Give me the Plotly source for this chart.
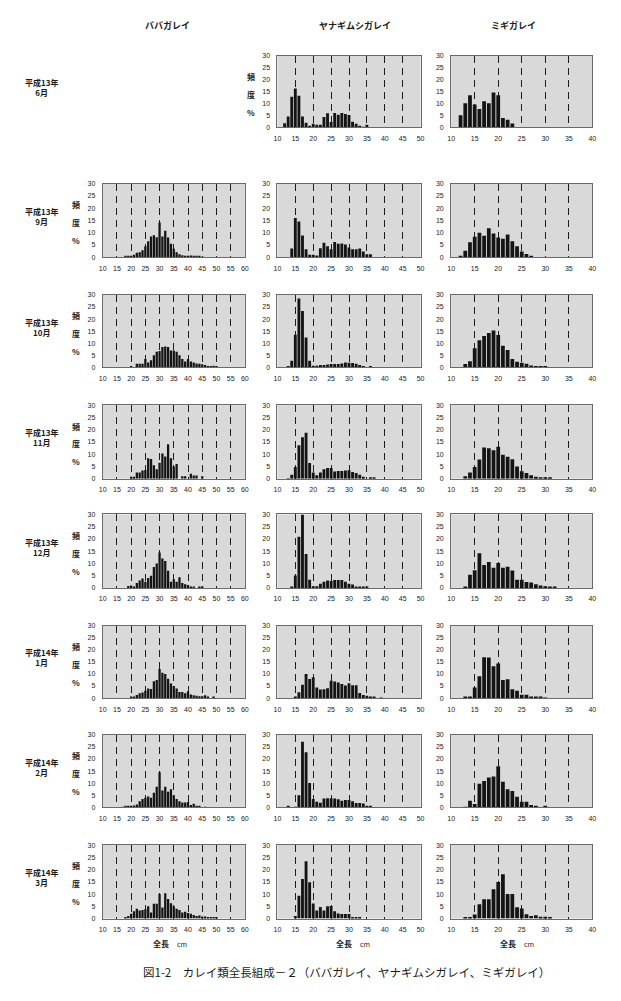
import plotly.graph_objects as go

W, H = 621, 1001

# ---------------- text ----------------
species = ["ババガレイ", "ヤナギムシガレイ", "ミギガレイ"]
months = ["平成13年<br>6月", "平成13年<br>9月", "平成13年<br>10月", "平成13年<br>11月",
          "平成13年<br>12月", "平成14年<br>1月", "平成14年<br>2月", "平成14年<br>3月"]
caption = "図1-2　カレイ類全長組成－２（ババガレイ、ヤナギムシガレイ、ミギガレイ）"
x_upper = [60, 50, 40]
y_ticks = [0, 5, 10, 15, 20, 25, 30]

# ---------------- data: frequency (%) by 1 cm length class ----------------
# each series: first length class (cm), then % per consecutive class
baba_0109_start = 18
baba_0109 = [0.2, 0.4, 0.6, 1.0, 1.8, 2.0, 2.8, 4.5, 6.5, 8.5, 9.0, 8.2, 14.2, 8.5, 10.8, 8.0,
             5.5, 3.5, 2.0, 1.2, 0.8, 0.6, 0.4, 0.7, 0.3, 0.2, 0.2, 0.1]
baba_0110_start = 20
baba_0110 = [0.3, 0, 1.5, 1.5, 1.5, 3.5, 2.0, 3.0, 5.0, 6.5, 6.8, 8.5, 8.7, 8.5, 7.0, 7.0, 6.5,
             5.0, 3.5, 2.5, 3.5, 2.5, 2.0, 1.6, 1.5, 1.3, 1.0, 0.5, 0.5, 0.7, 0.3, 0.2]
baba_0111_start = 20
baba_0111 = [0.8, 0.8, 2.5, 2.5, 3.3, 3.5, 8.3, 8.0, 5.5, 3.8, 6.5, 10.3, 9.0, 14.0, 8.3, 5.0,
             6.0, 0, 1.0, 1.0, 0, 2.0, 1.3, 1.3, 0, 1.0]
baba_0112_start = 19
baba_0112 = [0.8, 1.0, 0.6, 2.0, 3.0, 3.8, 2.5, 4.0, 5.0, 8.5, 10.0, 14.5, 12.0, 11.0, 7.0, 2.5,
             3.5, 2.5, 4.3, 2.0, 1.5, 1.2, 0.5, 0.3, 0, 0.3, 0.3]
baba_0201_start = 20
baba_0201 = [0.3, 0.6, 1.3, 2.0, 2.3, 3.0, 4.0, 3.8, 7.0, 7.5, 12.0, 10.5, 10.0, 8.0, 6.0, 5.0,
             4.0, 2.5, 2.5, 2.0, 2.8, 1.5, 1.2, 1.0, 0.8, 0.8, 1.2, 0.3, 0, 0.3]
baba_0202_start = 17
baba_0202 = [0.2, 0.3, 0.5, 0.5, 0.8, 1.2, 2.5, 3.5, 4.0, 4.5, 4.0, 6.0, 8.5, 14.5, 7.0, 8.5,
             6.5, 7.5, 5.0, 3.5, 2.5, 2.0, 2.0, 2.2, 1.0, 1.5, 0.5, 0.3, 0, 0.2]
baba_0203_start = 18
baba_0203 = [0.5, 1.0, 2.0, 3.0, 4.0, 3.3, 3.5, 3.8, 5.0, 2.5, 6.0, 6.0, 10.0, 4.5, 10.3, 8.0,
             6.3, 5.0, 4.0, 3.5, 2.5, 2.8, 2.3, 2.0, 1.5, 1.0, 1.2, 0.8, 0.8, 0.6, 0.4, 0.5, 0.6]

yana_0106_start = 12
yana_0106 = [1.6, 4.5, 12.8, 16.2, 13.2, 4.5, 1.8, 0.4, 1.4, 1.0, 1.0, 4.3, 5.8, 2.2, 5.9, 5.2,
             5.9, 5.5, 5.1, 2.3, 1.4, 0.6, 0.2, 1.0]
yana_0109_start = 14
yana_0109 = [3.6, 16.0, 14.6, 8.9, 3.2, 1.0, 1.0, 0.7, 3.7, 5.9, 4.5, 3.2, 6.2, 5.5, 5.6, 5.2,
             4.0, 3.3, 3.3, 3.6, 2.3, 1.2, 1.2]
yana_0110_start = 13
yana_0110 = [0.4, 2.8, 13.5, 28.5, 23.4, 12.4, 2.8, 0.7, 0.7, 1.0, 1.0, 1.2, 1.4, 1.4, 1.4, 1.6,
             2.0, 1.9, 1.8, 1.5, 1.0, 0.5, 0, 0.3]
yana_0111_start = 13
yana_0111 = [0.1, 1.6, 4.8, 13.6, 16.9, 18.7, 6.4, 2.5, 1.4, 2.5, 3.8, 4.4, 4.4, 2.9, 3.1, 3.1,
             3.3, 3.4, 2.7, 2.3, 1.6, 0.8, 0, 0.4, 0.4]
yana_0112_start = 14
yana_0112 = [0.3, 5.1, 20.9, 30.0, 13.8, 3.3, 0.7, 0.7, 1.7, 2.5, 3.0, 2.8, 3.2, 3.2, 3.2, 2.5,
             1.7, 1.4, 0.6, 0.6, 0.5, 0.3]
yana_0201_start = 15
yana_0201 = [0.3, 2.4, 5.5, 10.0, 7.9, 8.6, 4.4, 3.6, 3.7, 4.1, 7.2, 6.9, 6.5, 5.8, 5.2, 6.1,
             5.3, 5.3, 2.1, 1.3, 1.0, 0.6, 0.3, 0, 0.1]
yana_0202_start = 13
yana_0202 = [0.3, 0, 0.2, 5.0, 27.1, 22.8, 10.1, 3.4, 2.3, 1.9, 3.7, 3.8, 3.8, 3.7, 3.3, 2.7,
             3.0, 3.0, 2.5, 1.8, 1.8, 1.6, 0.7, 0.3]
yana_0203_start = 15
yana_0203 = [1.0, 9.3, 16.2, 23.4, 14.8, 6.1, 3.3, 4.7, 3.3, 5.0, 5.1, 3.0, 2.1, 1.9, 1.9, 1.9,
             0.4, 0.4, 0.3]

migi_0106_start = 12
migi_0106 = [5.0, 10.0, 13.4, 9.5, 7.6, 10.9, 10.0, 14.5, 13.4, 3.8, 3.1, 1.5]
migi_0109_start = 12
migi_0109 = [0.3, 2.6, 6.1, 8.4, 10.0, 8.8, 11.8, 9.7, 8.0, 7.5, 9.3, 6.5, 4.5, 2.3, 1.3, 0.5]
migi_0110_start = 13
migi_0110 = [1.4, 2.6, 7.9, 11.3, 13.0, 14.3, 15.3, 13.4, 9.0, 7.2, 3.5, 2.4, 1.9, 1.5, 0.8,
             0.5, 0.4, 0.3]
migi_0111_start = 13
migi_0111 = [1.0, 2.5, 4.8, 7.8, 12.7, 12.4, 11.6, 13.0, 9.8, 8.9, 7.9, 5.0, 3.0, 2.3, 1.4,
             0.8, 0.5, 0.4, 0.3]
migi_0112_start = 13
migi_0112 = [0.5, 5.4, 7.2, 14.1, 9.3, 10.6, 8.2, 10.2, 8.2, 8.6, 7.1, 3.3, 3.3, 2.4, 2.2, 1.5,
             1.0, 0.7, 0.4, 0.3]
migi_0201_start = 13
migi_0201 = [0.7, 0.7, 4.4, 9.0, 16.9, 16.8, 13.2, 14.3, 7.5, 7.8, 3.7, 3.0, 1.4, 1.4, 0.3,
             0.5, 0.3, 0.2]
migi_0202_start = 13
migi_0202 = [0.1, 2.7, 1.4, 9.8, 10.9, 12.3, 12.8, 17.0, 10.6, 7.5, 6.8, 4.4, 2.3, 2.3, 1.0,
             0.7, 0, 0.3]
migi_0203_start = 13
migi_0203 = [0.3, 0.4, 1.7, 5.8, 7.9, 7.9, 12.0, 14.9, 18.1, 10.0, 10.0, 4.6, 4.1, 1.8, 1.0,
             1.4, 0.7, 0.7, 0.3]

grid_data = [
    [None, (yana_0106_start, yana_0106), (migi_0106_start, migi_0106)],
    [(baba_0109_start, baba_0109), (yana_0109_start, yana_0109), (migi_0109_start, migi_0109)],
    [(baba_0110_start, baba_0110), (yana_0110_start, yana_0110), (migi_0110_start, migi_0110)],
    [(baba_0111_start, baba_0111), (yana_0111_start, yana_0111), (migi_0111_start, migi_0111)],
    [(baba_0112_start, baba_0112), (yana_0112_start, yana_0112), (migi_0112_start, migi_0112)],
    [(baba_0201_start, baba_0201), (yana_0201_start, yana_0201), (migi_0201_start, migi_0201)],
    [(baba_0202_start, baba_0202), (yana_0202_start, yana_0202), (migi_0202_start, migi_0202)],
    [(baba_0203_start, baba_0203), (yana_0203_start, yana_0203), (migi_0203_start, migi_0203)],
]

# ---------------- layout geometry (pixels) ----------------
col_px = [(100, 244), (277, 422), (453, 596)]
row_px = [(52, 124), (181, 255), (293, 366), (404, 478), (514, 588), (626, 699), (736, 809), (847, 921)]

FONT = "Liberation Sans, Arial, Noto Sans CJK JP"
CJK = "Noto Sans CJK JP, sans-serif"
TXT = "#1a1a1a"

fig = go.Figure()
layout = dict(
    width=W, height=H, margin=dict(l=0, r=0, t=0, b=0),
    paper_bgcolor="white", plot_bgcolor="#d9d9d9",
    showlegend=False, bargap=0.15,
    font=dict(family=FONT, size=7, color=TXT),
)
annotations = []


def px_x(x):
    return x / W


def px_y(y):
    return 1 - y / H


k = 0
for r, row in enumerate(grid_data):
    for c, item in enumerate(row):
        if item is None:
            continue
        k += 1
        start, vals = item
        xs = list(range(start, start + len(vals)))
        suffix = "" if k == 1 else str(k)
        fig.add_trace(go.Bar(
            x=xs, y=vals, xaxis="x" + suffix, yaxis="y" + suffix,
            marker=dict(color="#141414", line=dict(width=0)), width=0.8,
            hoverinfo="x+y",
        ))
        x0, x1 = col_px[c]
        y0, y1 = row_px[r]
        hi = x_upper[c]
        layout["xaxis" + suffix] = dict(
            domain=[px_x(x0), px_x(x1)], anchor="y" + suffix, range=[10, hi],
            tickvals=list(range(10, hi + 1, 5)), showgrid=True, gridcolor="#1e1e1e",
            gridwidth=1, griddash="7px,5px", zeroline=False, showline=True, mirror=True,
            linecolor="#6a6a6a", linewidth=1, ticks="", ticklabelstandoff=4,
            tickfont=dict(size=7, family=FONT, color=TXT), fixedrange=True,
        )
        layout["yaxis" + suffix] = dict(
            domain=[px_y(y1), px_y(y0)], anchor="x" + suffix, range=[0, 30],
            tickvals=y_ticks, showgrid=False, zeroline=False, showline=True, mirror=True,
            linecolor="#6a6a6a", linewidth=1, ticks="", ticklabelstandoff=5,
            tickfont=dict(size=7, family=FONT, color=TXT), fixedrange=True,
        )

# column headers
header_x = [166, 356, 516]
for c, name in enumerate(species):
    annotations.append(dict(
        x=px_x(header_x[c]), y=px_y(22), xref="paper", yref="paper", showarrow=False,
        text="<b>" + name + "</b>", font=dict(family=CJK, size=9, color=TXT),
        xanchor="center", yanchor="middle"))

# row labels
for r, m in enumerate(months):
    y0, y1 = row_px[r]
    annotations.append(dict(
        x=px_x(38), y=px_y((y0 + y1) / 2 - 4), xref="paper", yref="paper", showarrow=False,
        text="<b>" + m + "</b>", font=dict(family=CJK, size=8, color=TXT),
        xanchor="center", yanchor="middle", align="center"))

# 頻 度 % labels
for r in range(len(row_px)):
    lx = 250 if r == 0 else 73
    y0, _ = row_px[r]
    for ch, dy in zip(["頻", "度", "%"], [21, 39, 57]):
        annotations.append(dict(
            x=px_x(lx), y=px_y(y0 + dy), xref="paper", yref="paper", showarrow=False,
            text="<b>" + ch + "</b>", font=dict(family=CJK, size=8, color=TXT),
            xanchor="center", yanchor="middle"))

# x-axis titles
title_x = [168, 354, 520]
for c in range(3):
    annotations.append(dict(
        x=px_x(title_x[c]), y=px_y(946), xref="paper", yref="paper", showarrow=False,
        text="<b>全長</b>　<span style='font-size:7px'>cm</span>",
        font=dict(family=CJK, size=8, color=TXT), xanchor="center", yanchor="middle"))

# caption
annotations.append(dict(
    x=px_x(347), y=px_y(975), xref="paper", yref="paper", showarrow=False,
    text=caption, font=dict(family=CJK, size=11.5, color=TXT),
    xanchor="center", yanchor="middle"))

layout["annotations"] = annotations
fig.update_layout(**layout)
fig.write_html("out.html")
